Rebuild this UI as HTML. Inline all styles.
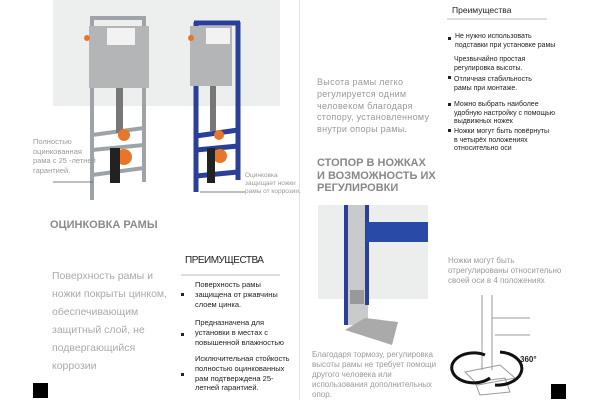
<!DOCTYPE html>
<html><head><meta charset="utf-8"><style>
body{margin:0;width:600px;height:400px;background:#fff;position:relative;overflow:hidden;font-family:"Liberation Sans","Noto Sans CJK SC",sans-serif}
.a{position:absolute;white-space:nowrap}
.g{color:#9a9a9a}
.s{font-size:7.5px;line-height:9.5px;color:#222}
.r{font-size:7px;line-height:8.5px;color:#222}
.b{position:absolute;width:3px;height:3px;background:#222}
</style></head><body>
<div class="a" style="left:53px;top:0;width:227px;height:106px;background:#ecefee"></div>
<div class="a" style="left:299px;top:0;width:1px;height:400px;background:#e4e4e4"></div>
<svg class="a" style="left:0;top:0" width="600" height="400">
<g fill="none" stroke="#9ea3a8" stroke-width="4">
<line x1="92" y1="18" x2="92" y2="200"/><line x1="144" y1="18" x2="144" y2="182"/>
<line x1="90" y1="18" x2="146" y2="18"/><line x1="92" y1="135" x2="144" y2="128"/><line x1="92" y1="150" x2="144" y2="145"/><line x1="92" y1="175" x2="144" y2="168"/></g>
<rect x="89" y="26" width="60" height="62" fill="#b3b5b7"/><rect x="107" y="28" width="28" height="17" fill="#f2f2f2"/>
<rect x="116" y="88" width="7" height="45" fill="#777"/>
<circle cx="124" cy="135" r="6" fill="#e8762a"/><circle cx="124" cy="157" r="8" fill="#e8762a"/><rect x="110" y="148" width="10" height="35" fill="#222"/>
<circle cx="87" cy="38" r="3" fill="#e8762a"/>
<g fill="none" stroke="#2a3f9a" stroke-width="5">
<line x1="196" y1="22" x2="196" y2="192"/><line x1="238" y1="22" x2="238" y2="180"/><line x1="194" y1="23" x2="240" y2="23"/>
<line x1="196" y1="136" x2="238" y2="130"/><line x1="196" y1="150" x2="238" y2="146"/><line x1="196" y1="176" x2="238" y2="172"/></g>
<rect x="190" y="26" width="42" height="60" fill="#b3b5b7"/><rect x="206" y="28" width="24" height="16" fill="#f2f2f2"/>
<rect x="210" y="86" width="6" height="45" fill="#777"/>
<circle cx="219" cy="135" r="5" fill="#e8762a"/><circle cx="220" cy="156" r="7" fill="#e8762a"/><rect x="207" y="148" width="8" height="35" fill="#222"/>
<circle cx="191" cy="38" r="3" fill="#e8762a"/>
<line x1="53" y1="182" x2="93" y2="182" stroke="#555" stroke-width="0.8"/>
<line x1="200" y1="192" x2="245" y2="192" stroke="#555" stroke-width="0.8"/>
<line x1="181" y1="275" x2="280" y2="275" stroke="#bbb" stroke-width="1"/>
<line x1="447" y1="19" x2="547" y2="19" stroke="#bbb" stroke-width="1"/>
<rect x="318" y="205" width="110" height="94" fill="#eceeed"/>
<rect x="344" y="205" width="24" height="120" fill="#c8cacc"/><rect x="344" y="205" width="4" height="120" fill="#2a3f9a"/><rect x="365" y="205" width="4" height="100" fill="#2a3f9a"/>
<rect x="366" y="222" width="62" height="20" fill="#2a4aa8"/>
<polygon points="365,318 398,322 392,345 345,330" fill="#aaa"/>
<rect x="350" y="290" width="14" height="14" fill="#999"/>
<g stroke="#999" fill="none" stroke-width="1"><line x1="482" y1="295" x2="482" y2="370"/><line x1="492" y1="295" x2="492" y2="370"/><line x1="492" y1="318" x2="530" y2="318"/><line x1="495" y1="335" x2="530" y2="335"/>
<polygon points="465,372 500,365 515,378 478,385"/><polygon points="475,382 505,378 510,392 480,395"/></g>
<path d="M485 355 A22 15 0 1 0 490 378" stroke="#111" stroke-width="3" fill="none"/>
<path d="M500 352 A22 15 0 0 1 495 385" stroke="#111" stroke-width="3" fill="none"/>
</svg>
<div class="a g" style="left:33px;top:137px;font-size:7.5px;line-height:9.5px">Полностью<br>оцинкованная<br>рама с 25 -летней<br>гарантией.</div>
<div class="a g" style="left:245px;top:172px;font-size:6.5px;line-height:8px">Оцинковка<br>защищает ножки<br>рамы от коррозии.</div>
<div class="a" style="left:50px;top:219px;font-size:11px;font-weight:bold;color:#8a8a8a">ОЦИНКОВКА РАМЫ</div>
<div class="a" style="left:52px;top:267px;font-size:10.5px;line-height:18px;color:#aaa">Поверхность рамы и<br>ножки покрыты цинком,<br>обеспечивающим<br>защитный слой, не<br>подвергающийся<br>коррозии</div>
<div class="a" style="left:185px;top:255px;font-size:10px;color:#222;letter-spacing:-0.5px">ПРЕИМУЩЕСТВА</div>
<div class="a s" style="left:195px;top:280px;line-height:9.8px">Поверхность рамы<br>защищена от ржавчины<br>слоем цинка.</div>
<div class="a s" style="left:195px;top:318px;line-height:9.8px">Предназначена для<br>установки в местах с<br>повышенной влажностью</div>
<div class="a s" style="left:195px;top:354px;line-height:9.8px">Исключительная стойкость<br>полностью оцинкованных<br>рам подтверждена 25-<br>летней гарантией.</div>
<div class="b" style="left:181px;top:293px"></div><div class="b" style="left:181px;top:333px"></div><div class="b" style="left:181px;top:373px"></div>
<div class="a" style="left:33px;top:383px;width:15px;height:15px;background:#000"></div>
<div class="a" style="left:551px;top:384px;width:15px;height:15px;background:#000"></div>
<div class="a" style="left:452px;top:5px;font-size:8.5px;color:#222">Преимущества</div>
<div class="a r" style="left:455px;top:33px">Не нужно использовать<br>подставки при установке рамы</div>
<div class="a r" style="left:454px;top:56px">Чрезвычайно простая<br>регулировка высоты.</div>
<div class="a r" style="left:454px;top:76px">Отличная стабильность<br>рамы при монтаже.</div>
<div class="a r" style="left:454px;top:101px">Можно выбрать наиболее<br>удобную настройку с помощью<br>выдвижных ножек</div>
<div class="a r" style="left:454px;top:128px">Ножки могут быть повёрнуты<br>в четырёх положениях<br>относительно оси</div>
<div class="b" style="left:448px;top:37px"></div><div class="b" style="left:448px;top:76px"></div><div class="b" style="left:448px;top:103px"></div><div class="b" style="left:448px;top:129px"></div>
<div class="a" style="left:317px;top:77px;font-size:9px;line-height:11.8px;color:#999;letter-spacing:0.3px">Высота рамы легко<br>регулируется одним<br>человеком благодаря<br>стопору, установленному<br>внутри опоры рамы.</div>
<div class="a" style="left:317px;top:157px;font-size:11px;line-height:12.5px;font-weight:bold;color:#888">СТОПОР В НОЖКАХ<br>И ВОЗМОЖНОСТЬ ИХ<br>РЕГУЛИРОВКИ</div>
<div class="a g" style="left:448px;top:256px;font-size:8px;line-height:10px">Ножки могут быть<br>отрегулированы относительно<br>своей оси в 4 положениях</div>
<div class="a g" style="left:312px;top:350px;font-size:8px;line-height:10px">Благодаря тормозу, регулировка<br>высоты рамы не требует помощи<br>другого человека или<br>использования дополнительных<br>опор.</div>
<div class="a" style="left:520px;top:355px;font-size:8px;font-weight:bold;color:#222">360°</div>
</body></html>
